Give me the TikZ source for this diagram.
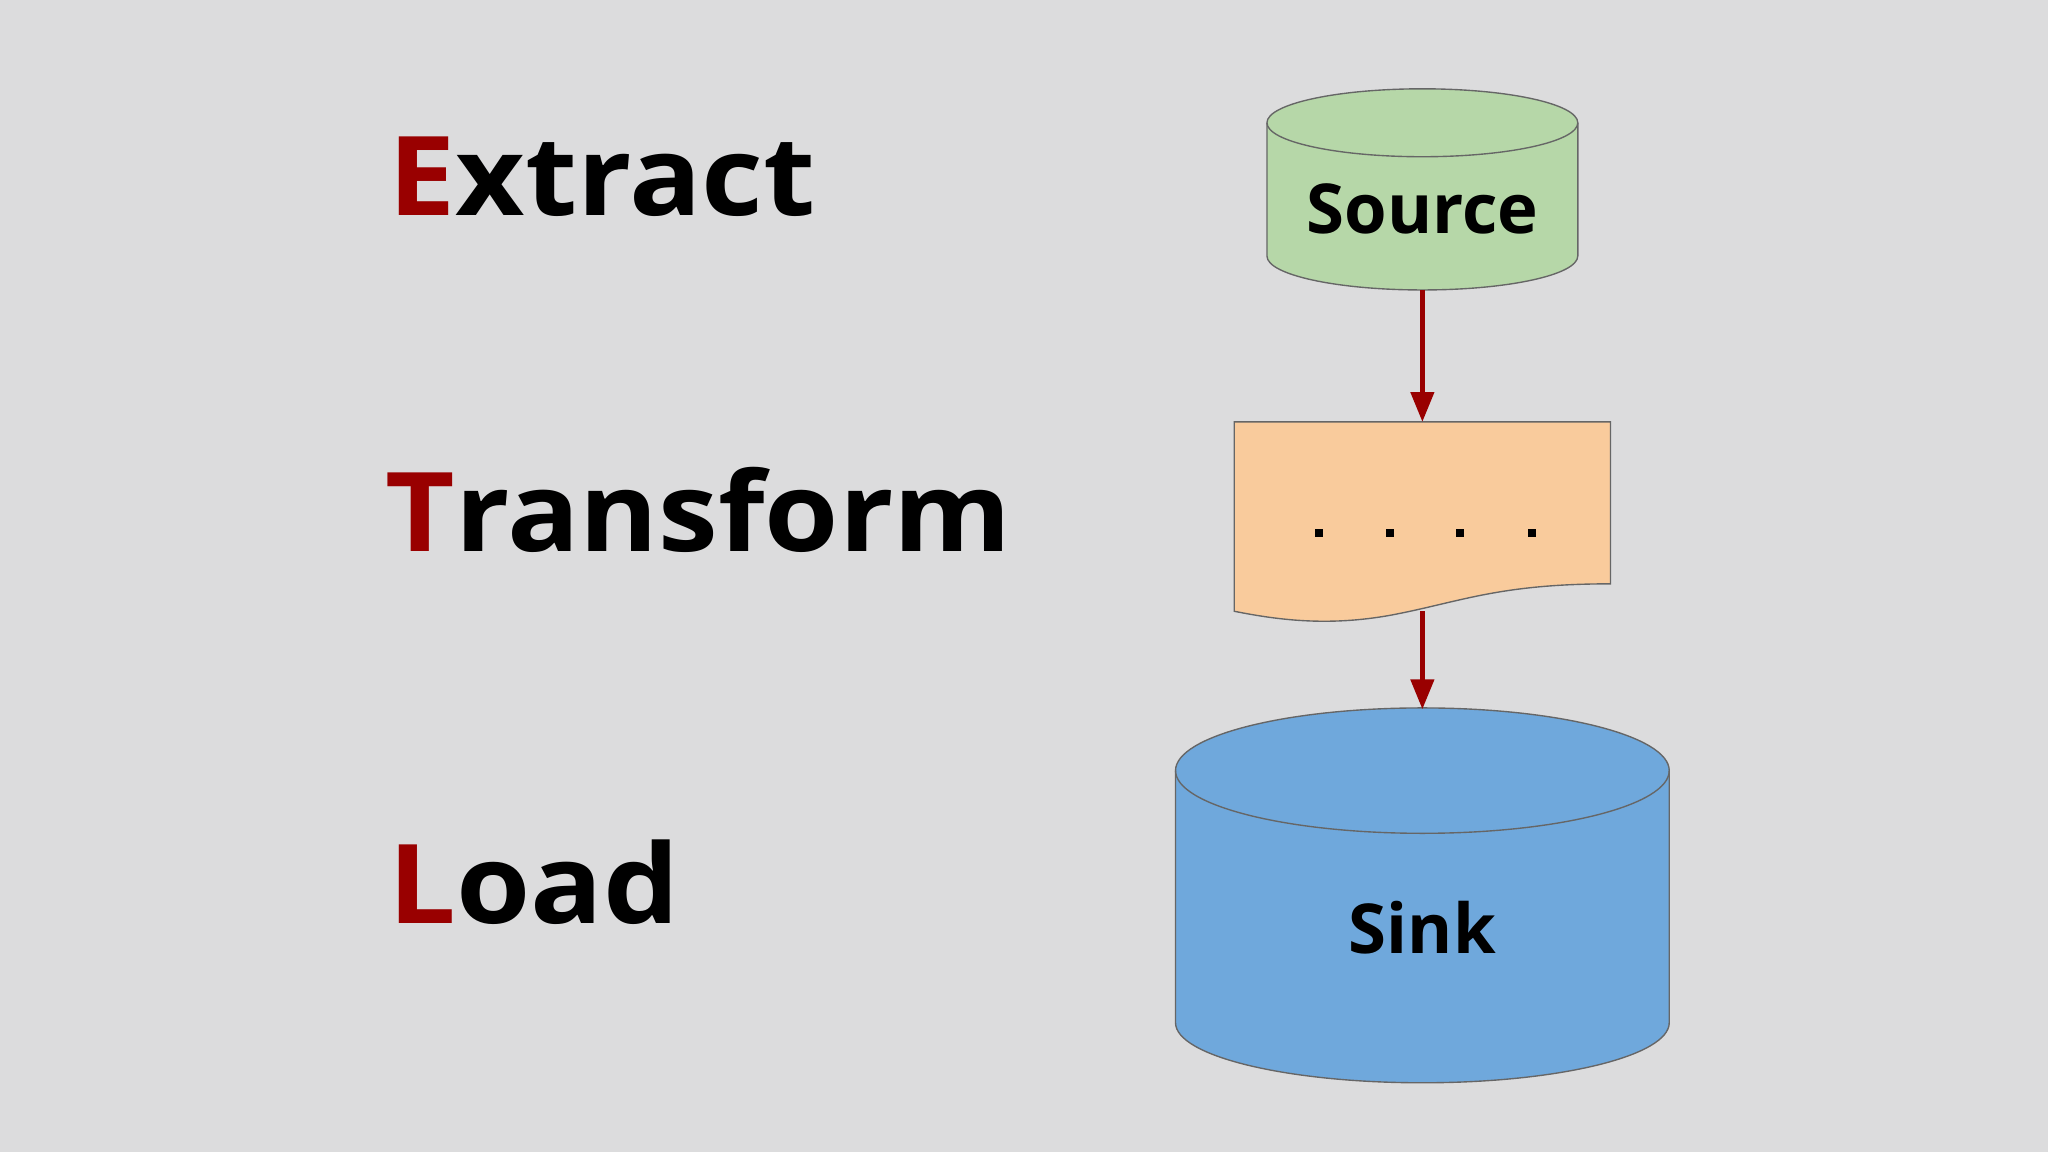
\documentclass[tikz,border=0pt]{standalone}
\usepackage{fontspec}
\setmainfont{Open Sans}
\usetikzlibrary{arrows.meta,positioning}
\definecolor{bgcol}{RGB}{220,220,221}
\definecolor{srccol}{RGB}{182,215,168}
\definecolor{doccol}{RGB}{249,203,156}
\definecolor{sinkcol}{RGB}{111,168,220}
\definecolor{etlred}{RGB}{153,0,0}
\begin{document}
\begin{tikzpicture}
[x=0.02cm,y=-0.02cm,
word/.style={anchor=base west,inner sep=0pt,xscale=1.09,font=\fontsize{48}{50}\selectfont\bfseries},
shapeline/.style={draw=black!60,line width=0.6pt},
flow/.style={draw=etlred,line width=2pt,-{Triangle[length=13pt,width=10pt]}},
label/.style={font=\fontsize{30}{34}\selectfont\bfseries},]

%background
\fill[bgcol] (0,0) rectangle (1568,882);

%ETL words
\node[word] (E) at (297,165) {\textcolor{etlred}{E}xtract};
\node[word] (T) at (295,422) {\textcolor{etlred}{T}ransform};
\node[word] (L) at (297,707) {\textcolor{etlred}{L}oad};

%Source cylinder
\filldraw[shapeline,fill=srccol] (970,94) -- (970,196) arc[start angle=180,end angle=360,x radius=119,y radius=-26] -- (1208,94) arc[start angle=0,end angle=180,x radius=119,y radius=-26] -- cycle;
\draw[shapeline] (970,94) arc[start angle=180,end angle=360,x radius=119,y radius=-26];
\node[label] (src) at (1089,160) {Source};
\coordinate (srcbot) at (1089,222);

%Transform document
\filldraw[shapeline,fill=doccol] (945,323) -- (1233,323) -- (1233,447) .. controls (1150,447) and (1120,460) .. (1070,470) .. controls (1020,480) and (980,475) .. (945,468) -- cycle;
\node (doc) at (1089,405) {};
\foreach \x in {1007,1061,1115,1170}
  \fill (\x,405) rectangle ++(6,6);
\coordinate (doctop) at (1089,323);
\coordinate (docbot) at (1089,468);

%Sink cylinder
\filldraw[shapeline,fill=sinkcol] (900,590) -- (900,783) arc[start angle=180,end angle=360,x radius=189,y radius=-46] -- (1278,590) arc[start angle=0,end angle=180,x radius=189,y radius=-48] -- cycle;
\draw[shapeline] (900,590) arc[start angle=180,end angle=360,x radius=189,y radius=-48];
\node[label] (sink) at (1089,710) {Sink};
\coordinate (sinktop) at (1089,543);

%arrows
\draw[flow] (srcbot) -- (doctop);
\draw[flow] (docbot) -- (sinktop);
\end{tikzpicture}
\end{document}
